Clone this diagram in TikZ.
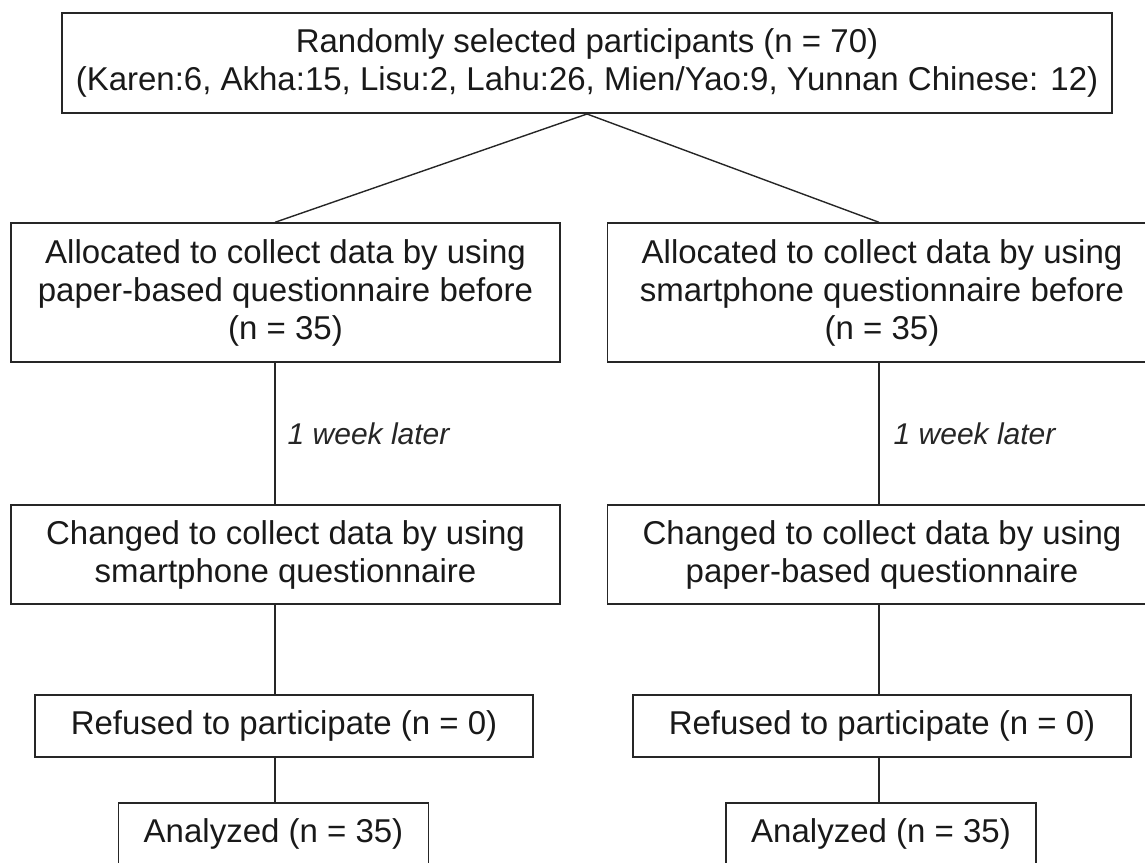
\documentclass[tikz,border=0pt]{standalone}
\usepackage{fontspec}
\setmainfont{Liberation Sans}

\begin{document}
\begin{tikzpicture}[x=0.5pt,y=-0.5pt,
  box/.style={draw=black!85,line width=0.7pt,align=center,inner sep=0pt,text=black!90,
    font=\fontsize{16.5}{19}\selectfont},
  link/.style={draw=black!85,line width=0.7pt},
  later/.style={font=\fontsize{15}{18}\selectfont\itshape,text=black!85,inner sep=0pt}]
\useasboundingbox (0,0) rectangle (1145,862);
\coordinate (colL) at (275,0);
\coordinate (colR) at (879,0);
\node[box,line width=1pt,minimum width=525pt,minimum height=50pt] (top) at (587,63) {Randomly selected participants (n = 70)\\(Karen:6, Akha:15, Lisu:2, Lahu:26, Mien/Yao:9, Yunnan Chinese: 12)};
\node[box,minimum width=274.5pt,minimum height=69.5pt] (alloc1) at (285.5,292.5) {Allocated to collect data by using\\paper-based questionnaire before\\(n = 35)};
\node[box,minimum width=274.5pt,minimum height=69.5pt] (alloc2) at (882,292.5) {Allocated to collect data by using\\smartphone questionnaire before\\(n = 35)};
\node[box,minimum width=274.5pt,minimum height=49.5pt] (chg1) at (285.5,554.5) {Changed to collect data by using\\smartphone questionnaire};
\node[box,minimum width=274.5pt,minimum height=49.5pt] (chg2) at (882,554.5) {Changed to collect data by using\\paper-based questionnaire};
\node[box,minimum width=249pt,minimum height=31pt] (ref1) at (284,726) {Refused to participate (n = 0)};
\node[box,minimum width=249pt,minimum height=31pt] (ref2) at (882,726) {Refused to participate (n = 0)};
\node[box,minimum width=155pt,minimum height=31pt] (ana1) at (273.5,834) {Analyzed (n = 35)};
\node[box,minimum width=155pt,minimum height=31pt] (ana2) at (881,834) {Analyzed (n = 35)};
\draw[link] (alloc1.north -| colL) -- (top.south) -- (alloc2.north -| colR);
\draw[link] (alloc1.south -| colL) -- node[later,right=6pt]{1 week later} (chg1.north -| colL);
\draw[link] (alloc2.south -| colR) -- node[later,right=7pt]{1 week later} (chg2.north -| colR);
\draw[link] (chg1.south -| colL) -- (ref1.north -| colL);
\draw[link] (chg2.south -| colR) -- (ref2.north -| colR);
\draw[link] (ref1.south -| colL) -- (ana1.north -| colL);
\draw[link] (ref2.south -| colR) -- (ana2.north -| colR);
\end{tikzpicture}
\end{document}
